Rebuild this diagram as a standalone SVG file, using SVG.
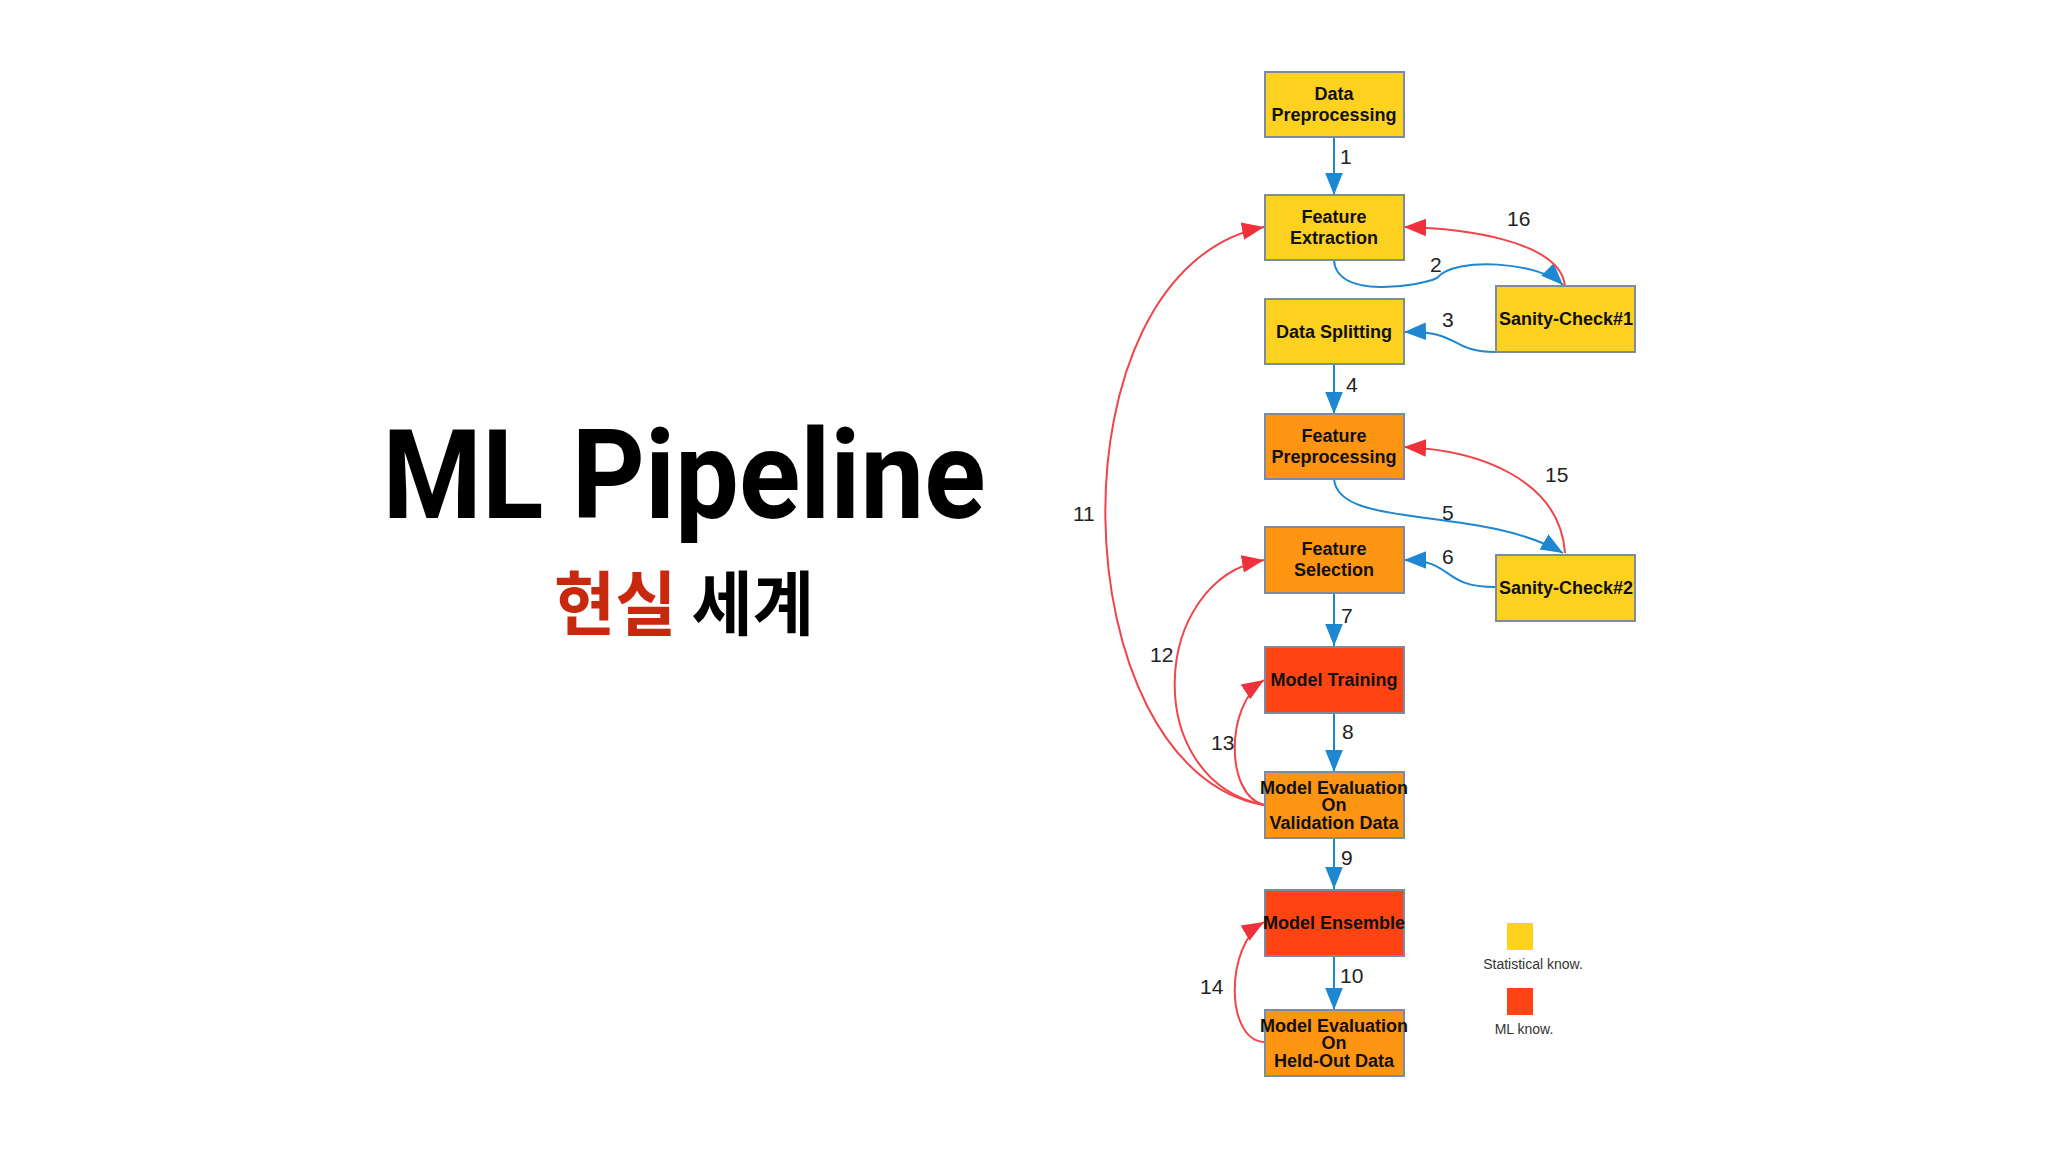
<svg xmlns="http://www.w3.org/2000/svg" width="2048" height="1152" viewBox="0 0 2048 1152">
<style>
.n rect{stroke:#7d8aa0;stroke-width:2}
.y rect{fill:#fdd11f}.o rect{fill:#fd9412}.r rect{fill:#fd4412}
.n text{font-family:"Liberation Sans",Arial,sans-serif;font-weight:bold;font-size:18px;fill:#111;text-anchor:middle}
.b{fill:none;stroke:#1d87d1;stroke-width:2}
.rd{fill:none;stroke:#f0454a;stroke-width:2}
.lb{font-family:"Liberation Sans",Arial,sans-serif;font-size:21px;fill:#222}
.lg{font-family:"Liberation Sans",Arial,sans-serif;font-size:14px;fill:#333;text-anchor:middle}
</style>
<defs>
<marker id="ab" viewBox="0 0 10 10" refX="10" refY="5" markerWidth="22" markerHeight="22" markerUnits="userSpaceOnUse" orient="auto"><path d="M0,1 L10,5 L0,9 z" fill="#1d87d1"/></marker>
<marker id="ar" viewBox="0 0 10 10" refX="10" refY="5" markerWidth="22" markerHeight="22" markerUnits="userSpaceOnUse" orient="auto"><path d="M0,1 L10,5 L0,9 z" fill="#f0303a"/></marker>
</defs>
<rect width="2048" height="1152" fill="#fff"/>
<g id="title">
<text x="684" y="518" font-family="Roboto,'Noto Sans',sans-serif" font-weight="bold" font-size="124" text-anchor="middle" textLength="603" lengthAdjust="spacingAndGlyphs">ML Pipeline</text>
<text x="684" y="630" font-family="'Noto Sans CJK KR',sans-serif" font-weight="bold" font-size="70" text-anchor="middle" textLength="260" lengthAdjust="spacingAndGlyphs"><tspan fill="#c8290e">현실</tspan> <tspan fill="#000">세계</tspan></text>
</g>
<g id="connectors">
<path class="b" d="M1334,137 L1334,195" marker-end="url(#ab)"/>
<path class="b" d="M1334,260 C1336,300 1420,286 1437,278 C1455,256 1540,262 1563,285" marker-end="url(#ab)"/>
<path class="b" d="M1495,352 C1450,352 1460,330 1404,332" marker-end="url(#ab)"/>
<path class="b" d="M1334,364 L1334,414" marker-end="url(#ab)"/>
<path class="b" d="M1334,479 C1338,530 1480,505 1563,553" marker-end="url(#ab)"/>
<path class="b" d="M1495,587 C1440,587 1455,560 1404,560" marker-end="url(#ab)"/>
<path class="b" d="M1334,593 L1334,646" marker-end="url(#ab)"/>
<path class="b" d="M1334,713 L1334,772" marker-end="url(#ab)"/>
<path class="b" d="M1334,837 L1334,889" marker-end="url(#ab)"/>
<path class="b" d="M1334,956 L1334,1010" marker-end="url(#ab)"/>
<path class="rd" d="M1264,805 C1060,770 1045,270 1264,227" marker-end="url(#ar)"/>
<path class="rd" d="M1264,805 C1140,780 1150,580 1264,560" marker-end="url(#ar)"/>
<path class="rd" d="M1264,805 C1225,795 1225,705 1264,680" marker-end="url(#ar)"/>
<path class="rd" d="M1264,1042 C1225,1040 1225,945 1264,922" marker-end="url(#ar)"/>
<path class="rd" d="M1565,553 C1560,480 1480,450 1404,447" marker-end="url(#ar)"/>
<path class="rd" d="M1565,286 C1560,240 1460,228 1404,227" marker-end="url(#ar)"/>
<text class="lb" x="1340" y="164">1</text>
<text class="lb" x="1430" y="272">2</text>
<text class="lb" x="1442" y="327">3</text>
<text class="lb" x="1346" y="392">4</text>
<text class="lb" x="1442" y="520">5</text>
<text class="lb" x="1442" y="564">6</text>
<text class="lb" x="1341" y="623">7</text>
<text class="lb" x="1342" y="739">8</text>
<text class="lb" x="1341" y="865">9</text>
<text class="lb" x="1340" y="983">10</text>
<text class="lb" x="1073" y="521">11</text>
<text class="lb" x="1150" y="662">12</text>
<text class="lb" x="1211" y="750">13</text>
<text class="lb" x="1200" y="994">14</text>
<text class="lb" x="1545" y="482">15</text>
<text class="lb" x="1507" y="226">16</text>
</g>
<g id="data-preprocessing" class="n y"><rect x="1265" y="72" width="139" height="65"/><text x="1334" y="100">Data</text><text x="1334" y="121">Preprocessing</text></g>
<g id="feature-extraction" class="n y"><rect x="1265" y="195" width="139" height="65"/><text x="1334" y="223">Feature</text><text x="1334" y="244">Extraction</text></g>
<g id="data-splitting" class="n y"><rect x="1265" y="299" width="139" height="65"/><text x="1334" y="338">Data Splitting</text></g>
<g id="sanity-check-1" class="n y"><rect x="1496" y="286" width="139" height="66"/><text x="1566" y="325" font-size="17">Sanity-Check#1</text></g>
<g id="feature-preprocessing" class="n o"><rect x="1265" y="414" width="139" height="65"/><text x="1334" y="442">Feature</text><text x="1334" y="463">Preprocessing</text></g>
<g id="sanity-check-2" class="n y"><rect x="1496" y="555" width="139" height="66"/><text x="1566" y="594" font-size="17">Sanity-Check#2</text></g>
<g id="feature-selection" class="n o"><rect x="1265" y="527" width="139" height="66"/><text x="1334" y="555">Feature</text><text x="1334" y="576">Selection</text></g>
<g id="model-training" class="n r"><rect x="1265" y="647" width="139" height="66"/><text x="1334" y="686">Model Training</text></g>
<g id="model-eval-validation" class="n o"><rect x="1265" y="772" width="139" height="66"/><text x="1334" y="794" font-size="15">Model Evaluation</text><text x="1334" y="811" font-size="15">On</text><text x="1334" y="829" font-size="15">Validation Data</text></g>
<g id="model-ensemble" class="n r"><rect x="1265" y="890" width="139" height="66"/><text x="1334" y="929" font-size="16">Model Ensemble</text></g>
<g id="model-eval-heldout" class="n o"><rect x="1265" y="1010" width="139" height="66"/><text x="1334" y="1032" font-size="15">Model Evaluation</text><text x="1334" y="1049" font-size="15">On</text><text x="1334" y="1067" font-size="15">Held-Out Data</text></g>
<g id="legend">
<rect x="1507" y="923" width="26" height="27" fill="#fdd11f"/>
<text class="lg" x="1533" y="969">Statistical know.</text>
<rect x="1507" y="988" width="26" height="27" fill="#fd4412"/>
<text class="lg" x="1524" y="1034">ML know.</text>
</g>
</svg>
